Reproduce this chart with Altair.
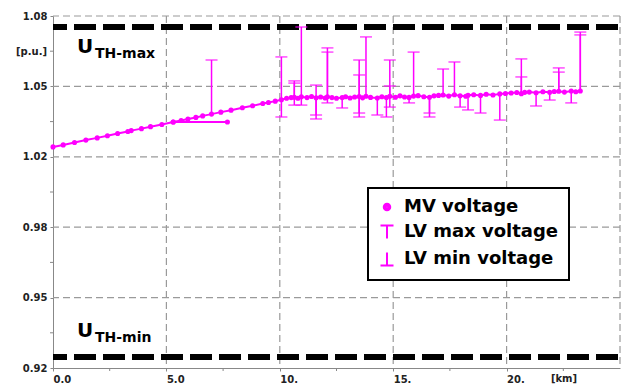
import altair as alt
import pandas as pd

# ---------------- data ----------------
mv_km = [0.0, 0.45, 0.95, 1.45, 1.95, 2.4, 2.85, 3.3, 3.45, 3.9, 4.3, 4.8, 5.3, 5.65, 5.95,
         6.3, 6.6, 6.99, 7.4, 7.85, 8.35, 8.8, 9.25, 9.5, 9.8, 10.07,
         10.3, 10.5, 10.64, 10.8, 10.95, 11.2, 11.4, 11.6, 11.8, 12.0, 12.1, 12.3, 12.5,
         12.75, 12.9, 13.1, 13.3, 13.5, 13.65, 13.8, 14.0, 14.3, 14.5, 14.7, 14.85, 15.1,
         15.3, 15.5, 15.7, 15.9, 16.1, 16.35, 16.6, 16.8, 17.0, 17.2, 17.45, 17.7, 17.95,
         18.2, 18.3, 18.55, 18.85, 19.1, 19.4, 19.7, 19.95, 20.2, 20.45, 20.65, 20.8, 21.0,
         21.3, 21.6, 21.9, 22.1, 22.3, 22.55, 22.85, 23.05, 23.25]
mv_pu = [1.0205, 1.0214, 1.0225, 1.0236, 1.0246, 1.0256, 1.0266, 1.0275, 1.0279, 1.0288,
         1.0297, 1.0307, 1.0318, 1.0325, 1.0332, 1.0339, 1.0346, 1.0354, 1.0363, 1.0372,
         1.0383, 1.0392, 1.0402, 1.0407, 1.0413, 1.0419,
         1.0426, 1.0429, 1.0431, 1.0426, 1.0433, 1.0429, 1.0434, 1.0428, 1.0432, 1.0427,
         1.0433, 1.0429, 1.0426, 1.0429, 1.0433, 1.0427, 1.0432, 1.0434, 1.0428, 1.0435,
         1.0430, 1.0427, 1.0433, 1.0429, 1.0435, 1.0431, 1.0437, 1.0432, 1.0430, 1.0436,
         1.0438, 1.0433, 1.0431, 1.0437, 1.0439, 1.0441, 1.0436, 1.0442, 1.0437, 1.0435,
         1.0440, 1.0442, 1.0439, 1.0444, 1.0441, 1.0446, 1.0448, 1.0450, 1.0452, 1.0447,
         1.0453, 1.0454, 1.0451, 1.0456, 1.0453, 1.0457, 1.0458, 1.0454, 1.0459, 1.0456,
         1.0459]

branch_km = [5.3, 7.69]
branch_pu = [1.0318, 1.0318]

lvmax_km = [6.99, 10.07, 10.64, 10.64, 10.95, 11.6, 12.1, 12.1, 13.5, 13.5, 13.8,
            14.85, 14.85, 15.9, 17.2, 17.7, 20.65, 20.65, 22.3, 22.3, 23.25, 23.25]
lvmax_pu = [1.0600, 1.0614, 1.0505, 1.0495, 1.0750, 1.0486, 1.0655, 1.0636, 1.0600, 1.0532,
            1.0705, 1.0600, 1.0482, 1.0636, 1.0559, 1.0591, 1.0605, 1.0523, 1.0564, 1.0545,
            1.0727, 1.0714]

lvmin_km = [10.07, 10.64, 10.95, 11.6, 11.6, 12.1, 12.75, 13.5, 13.5, 14.3, 14.7, 14.85,
            15.7, 16.6, 16.6, 17.95, 18.3, 18.85, 19.7, 21.3, 21.9, 22.85]
lvmin_pu = [1.0341, 1.0395, 1.0395, 1.0350, 1.0332, 1.0405, 1.0382, 1.0359, 1.0341, 1.0350,
            1.0341, 1.0386, 1.0405, 1.0359, 1.0341, 1.0386, 1.0373, 1.0359, 1.0327, 1.0391,
            1.0418, 1.0405]

th_pu = [1.075, 0.925]

y_ticks = [0.92, 0.952, 0.984, 1.016, 1.048, 1.08]
y_labels = ["0.92", "0.95", "0.98", "1.02", "1.05", "1.08"]
y_minor = [0.936, 0.968, 1.0, 1.032, 1.064]
x_ticks = [0, 5, 10, 15, 20]
x_labels = ["0.0", "5.0", "10.", "15.", "20."]
x_minor = [2.5, 7.5, 12.5, 17.5, 22.5]
x_grid = [5, 10, 15, 20, 25]
legend_names = ["MV voltage", "LV max voltage", "LV min voltage"]

# ---------------- layout / style ----------------
W, H = 567, 352
MAG = "#ff00ff"
GRID = "#9a9a9a"
FONT = "DejaVu Sans"


def label_expr(vals, labs):
    expr = "''"
    for v, l in reversed(list(zip(vals, labs))):
        expr = f"abs(datum.value - {v}) < 1e-6 ? '{l}' : ({expr})"
    return expr


xs = alt.Scale(domain=[0, 25], nice=False, zero=False)
ys = alt.Scale(domain=[0.92, 1.08], nice=False, zero=False)
xax = alt.Axis(values=x_ticks, labelExpr=label_expr(x_ticks, x_labels), title=None,
               grid=False, domainColor="#888888", tickColor="#888888", tickSize=3,
               labelAlign="left", labelPadding=3, labelFont=FONT, labelFontSize=10,
               labelFontWeight="bold", labelColor="#222222", labelBaseline="top")
yax = alt.Axis(values=y_ticks, labelExpr=label_expr(y_ticks, y_labels), title=None,
               grid=False, domainColor="#888888", tickColor="#888888", tickSize=3,
               labelPadding=3, labelFont=FONT, labelFontSize=10, labelFontWeight="bold",
               labelColor="#222222")


def X(f):
    return alt.X(f, type="quantitative", scale=xs, axis=xax)


def Y(f):
    return alt.Y(f, type="quantitative", scale=ys, axis=yax)


mv_df = pd.DataFrame({"km": mv_km, "pu": mv_pu, "br": "main"})
br_df = pd.DataFrame({"km": branch_km, "pu": branch_pu, "br": "lateral"})
line_df = pd.concat([mv_df, br_df], ignore_index=True)
mv_at = dict(zip(mv_km, mv_pu))
max_df = pd.DataFrame({"km": lvmax_km, "v": lvmax_pu, "mv": [mv_at[k] for k in lvmax_km]})
min_df = pd.DataFrame({"km": lvmin_km, "v": lvmin_pu, "mv": [mv_at[k] for k in lvmin_km]})

xgrid = alt.Chart(pd.DataFrame({"g": x_grid})).mark_rule(
    color=GRID, strokeWidth=1.2, strokeDash=[7, 4]).encode(x=X("g"))
ygrid = alt.Chart(pd.DataFrame({"g": y_ticks[1:]})).mark_rule(
    color=GRID, strokeWidth=1.2, strokeDash=[7, 4]).encode(y=Y("g"))
xminor = alt.Chart(pd.DataFrame({"m": x_minor})).mark_rule(color="#888888").encode(
    x=X("m"), y=alt.value(H), y2=alt.value(H + 3))
yminor = alt.Chart(pd.DataFrame({"m": y_minor})).mark_rule(color="#888888").encode(
    y=Y("m"), x=alt.value(-3), x2=alt.value(0))

thresh = alt.Chart(pd.DataFrame({"th": th_pu})).mark_rule(
    color="black", strokeWidth=6, strokeDash=[22, 7], strokeDashOffset=-2).encode(y=Y("th"))

mv_line = alt.Chart(line_df).mark_line(color=MAG, strokeWidth=2).encode(
    x=X("km"), y=Y("pu"), detail="br:N", order="km:Q")
mv_pts = alt.Chart(line_df).mark_circle(color=MAG, size=26, opacity=1).encode(
    x=X("km"), y=Y("pu"))

max_rule = alt.Chart(max_df).mark_rule(color=MAG, strokeWidth=1.5).encode(
    x=X("km"), y=Y("mv"), y2="v:Q")
max_cap = alt.Chart(max_df).mark_tick(color=MAG, orient="horizontal", size=12,
                                      thickness=1.5).encode(x=X("km"), y=Y("v"))
min_rule = alt.Chart(min_df).mark_rule(color=MAG, strokeWidth=1.5).encode(
    x=X("km"), y=Y("mv"), y2="v:Q")
min_cap = alt.Chart(min_df).mark_tick(color=MAG, orient="horizontal", size=12,
                                      thickness=1.5).encode(x=X("km"), y=Y("v"))

# legend symbols: a solid dot (drawn as concentric stroked rings), a T and an inverted T
dot_path = ("M0.5,0A0.5,0.5 0 1,1 -0.5,0A0.5,0.5 0 1,1 0.5,0"
            "M0.3,0A0.3,0.3 0 1,1 -0.3,0A0.3,0.3 0 1,1 0.3,0"
            "M0.1,0A0.1,0.1 0 1,1 -0.1,0A0.1,0.1 0 1,1 0.1,0")
shape_paths = [dot_path, "M-1,-1H1M0,-1V1", "M0,-1V1M-1,1H1"]
legend_layer = alt.Chart(pd.DataFrame({"name": legend_names})).mark_point(
    opacity=0, color=MAG, strokeWidth=2).encode(
    x=alt.value(0), y=alt.value(0),
    shape=alt.Shape("name:N", scale=alt.Scale(domain=legend_names, range=shape_paths),
                    legend=alt.Legend(orient="none", legendX=315, legendY=172, title=None,
                                      strokeColor="black", fillColor="white", padding=10,
                                      labelFont=FONT, labelFontSize=18, labelFontWeight="bold",
                                      labelColor="black", labelOffset=8, rowPadding=5,
                                      symbolSize=169, symbolStrokeColor=MAG,
                                      symbolStrokeWidth=2, symbolOpacity=1, labelLimit=300)))

u_max = alt.Chart(pd.DataFrame({"t": ["U"]})).mark_text(
    x=24, y=37, align="left", baseline="alphabetic", font=FONT, fontSize=20,
    fontWeight="bold", color="black").encode(text="t:N")
u_max_sub = alt.Chart(pd.DataFrame({"t": ["TH-max"]})).mark_text(
    x=42, y=42, align="left", baseline="alphabetic", font=FONT, fontSize=14,
    fontWeight="bold", color="black").encode(text="t:N")
u_min = alt.Chart(pd.DataFrame({"t": ["U"]})).mark_text(
    x=24, y=321, align="left", baseline="alphabetic", font=FONT, fontSize=20,
    fontWeight="bold", color="black").encode(text="t:N")
u_min_sub = alt.Chart(pd.DataFrame({"t": ["TH-min"]})).mark_text(
    x=42, y=326, align="left", baseline="alphabetic", font=FONT, fontSize=14,
    fontWeight="bold", color="black").encode(text="t:N")
pu_lab = alt.Chart(pd.DataFrame({"t": ["[p.u.]"]})).mark_text(
    x=-6, y=36, align="right", baseline="middle", font=FONT, fontSize=10,
    fontWeight="bold", color="#222222").encode(text="t:N")
km_lab = alt.Chart(pd.DataFrame({"t": ["[km]"]})).mark_text(
    x=511, y=H + 6, align="center", baseline="top", font=FONT, fontSize=10,
    fontWeight="bold", color="#222222").encode(text="t:N")

chart = alt.layer(
    xgrid, ygrid, xminor, yminor, thresh, mv_line, max_rule, min_rule, max_cap, min_cap,
    mv_pts, legend_layer, u_max, u_max_sub, u_min, u_min_sub, pu_lab, km_lab
).properties(
    width=W, height=H, autosize="none",
    padding={"left": 53, "top": 16, "right": 12, "bottom": 17},
    background="white"
).configure_view(stroke=None).configure_legend(strokeWidth=2)

chart.save("out.html", embed_options={"renderer": "svg", "actions": False})
